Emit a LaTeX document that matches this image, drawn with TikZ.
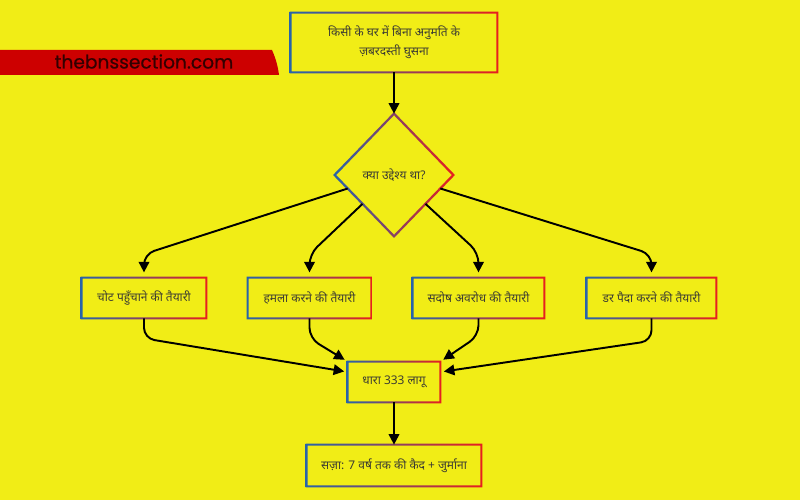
\documentclass[tikz,border=0pt]{standalone}
\usepackage{fontspec}
\usepackage{xcolor}
\usepackage{tikz}
\usetikzlibrary{shapes.geometric, arrows.meta, positioning, calc}
\newfontfamily\hindi[Script=Devanagari]{Noto Sans}
\newfontfamily\webfont[FakeBold=0.6]{Poppins}
\definecolor{bgyellow}{RGB}{241,237,22}
\definecolor{bannerred}{RGB}{205,0,0}
\definecolor{gblue}{RGB}{40,100,170}
\definecolor{gmid}{RGB}{120,55,85}
\definecolor{gred}{RGB}{232,30,30}
\definecolor{txtdark}{RGB}{60,60,50}
\tikzset{
  box/.style={rectangle, inner sep=0pt, align=center,
    font=\hindi\fontsize{6.8}{11}\selectfont, text=txtdark},
  choice/.style={diamond, inner sep=0pt, minimum width=2.36cm,
    minimum height=2.44cm, font=\hindi\fontsize{6.8}{10}\selectfont, text=txtdark},
  arrow/.style={-{Triangle[length=6pt, width=6pt]}, line width=1.1pt, black},
  elbow/.style={arrow, rounded corners=6pt}
}
% gradient frame round a rectangle node
\newcommand{\gframe}[1]{%
  \shade[left color=gblue, middle color=gmid, right color=gred, even odd rule]
    ($(#1.south west)+(-0.6pt,-0.6pt)$) rectangle ($(#1.north east)+(0.6pt,0.6pt)$)
    ($(#1.south west)+(0.6pt,0.6pt)$) rectangle ($(#1.north east)+(-0.6pt,-0.6pt)$);}
% gradient frame round a diamond node
\newcommand{\gdiamond}[1]{%
  \shade[left color=gblue, middle color=gmid, right color=gred, even odd rule]
    ($(#1.north)+(0,0.9pt)$) -- ($(#1.east)+(0.9pt,0)$) -- ($(#1.south)+(0,-0.9pt)$) -- ($(#1.west)+(-0.9pt,0)$) -- cycle
    ($(#1.north)+(0,-0.9pt)$) -- ($(#1.east)+(-0.9pt,0)$) -- ($(#1.south)+(0,0.9pt)$) -- ($(#1.west)+(0.9pt,0)$) -- cycle;}

\begin{document}
\begin{tikzpicture}
  % background
  \fill[bgyellow] (0,0) rectangle (16,-10);
  \useasboundingbox (0,0) rectangle (16,-10);

  % site banner
  \fill[bannerred] (0,-1.0) -- (5.44,-1.0) .. controls (5.52,-1.18) and (5.56,-1.34) .. (5.58,-1.5) -- (0,-1.5) -- cycle;
  \node[font=\webfont\fontsize{10.6}{11}\selectfont, text=black!80!red] (site) at (2.88,-1.23) {thebnssection.com};

  % nodes
  \node[box, minimum width=4.12cm, minimum height=1.18cm] (entry) at (7.88,-0.85)
    {किसी के घर में बिना अनुमति के\\ज़बरदस्ती घुसना};
  \node[choice] (aim) at (7.88,-3.5) {क्या उद्देश्य था?};

  \node[box, minimum width=2.48cm, minimum height=0.8cm] (hurt) at (2.88,-5.96) {चोट पहुँचाने की तैयारी};
  \node[box, minimum width=2.46cm, minimum height=0.8cm] (assault) at (6.19,-5.96) {हमला करने की तैयारी};
  \node[box, minimum width=2.62cm, minimum height=0.8cm] (restraint) at (9.57,-5.96) {सदोष अवरोध की तैयारी};
  \node[box, minimum width=2.58cm, minimum height=0.8cm] (fear) at (13.03,-5.96) {डर पैदा करने की तैयारी};

  \node[box, minimum width=1.84cm, minimum height=0.8cm] (law) at (7.88,-7.64) {धारा 333 लागू};
  \node[box, minimum width=3.48cm, minimum height=0.82cm] (penalty) at (7.88,-9.31) {सज़ा: 7 वर्ष तक की कैद + जुर्माना};

  % frames
  \foreach \n in {entry, hurt, assault, restraint, fear, law, penalty} {
    \gframe{\n}
  }
  \gdiamond{aim}

  % connectors
  \draw[arrow] (entry.south) -- (aim.north);
  \draw[elbow, shorten >=3pt] ($(aim.west)!0.22!(aim.south)$) -- ($(hurt.north)+(0,0.47)$) -- (hurt.north);
  \draw[elbow, shorten >=3pt] ($(aim.west)!0.47!(aim.south)$) -- ($(assault.north)+(0,0.47)$) -- (assault.north);
  \draw[elbow, shorten >=3pt] ($(aim.east)!0.47!(aim.south)$) -- ($(restraint.north)+(0,0.5)$) -- (restraint.north);
  \draw[elbow, shorten >=3pt] ($(aim.east)!0.22!(aim.south)$) -- ($(fear.north)+(0,0.47)$) -- (fear.north);

  \draw[elbow, shorten >=2pt] (hurt.south) -- ($(hurt.south)+(0,-0.4)$) -- ($(law.west)+(0,0.2)$);
  \draw[elbow, shorten >=2pt] (assault.south) -- ($(assault.south)+(0,-0.4)$) -- (law.north west);
  \draw[elbow, shorten >=2pt] (restraint.south) -- ($(restraint.south)+(0,-0.35)$) -- (law.north east);
  \draw[elbow, shorten >=2pt] (fear.south) -- ($(fear.south)+(0,-0.45)$) -- ($(law.east)+(0,0.2)$);

  \draw[arrow] (law.south) -- (penalty.north);
\end{tikzpicture}
\end{document}
